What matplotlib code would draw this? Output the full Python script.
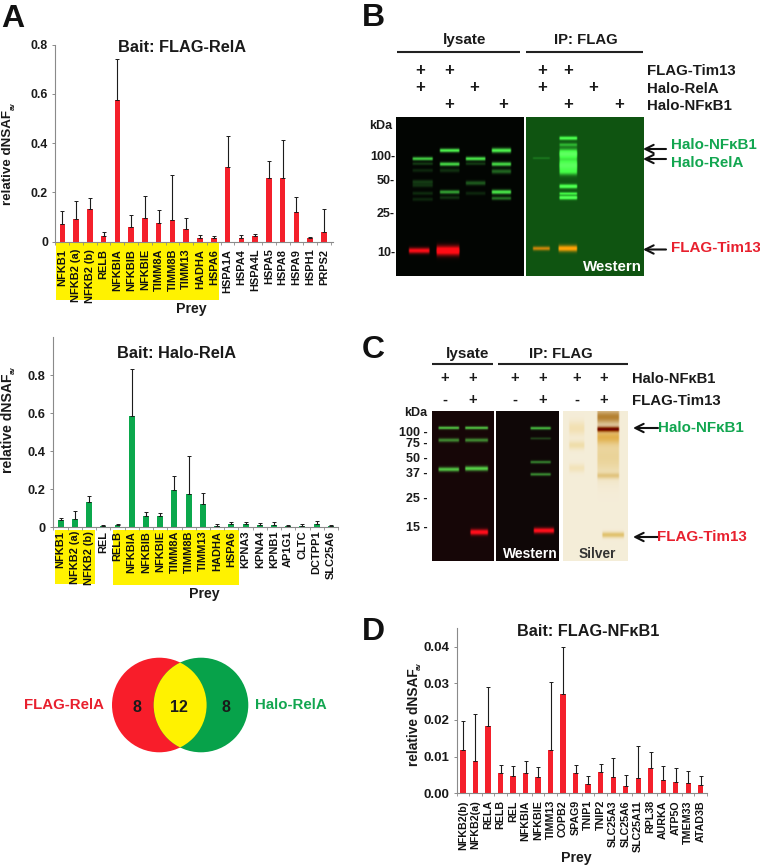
import numpy as np
import matplotlib
matplotlib.use("Agg")
import matplotlib.pyplot as plt
from matplotlib.patches import Circle, Rectangle

plt.rcParams['font.family'] = ['Liberation Sans', 'DejaVu Sans']
plt.rcParams['font.weight'] = 'bold'

RED = '#F4202B'
GREEN = '#0BA84C'
TXT_GREEN = '#12A650'
TXT_RED = '#E8202E'
AXC = '#8a8a8a'

# ---------- Data ----------
a1_labels = ['NFKB1', 'NFKB2 (a)', 'NFKB2 (b)', 'RELB', 'NFKBIA', 'NFKBIB', 'NFKBIE', 'TIMM8A', 'TIMM8B', 'TIMM13',
             'HADHA', 'HSPA6', 'HSPA1A', 'HSPA4', 'HSPA4L', 'HSPA5', 'HSPA8', 'HSPA9', 'HSPH1', 'PRPS2']
a1_values = [0.072, 0.092, 0.131, 0.022, 0.576, 0.061, 0.095, 0.076, 0.088, 0.053,
             0.015, 0.014, 0.305, 0.016, 0.022, 0.258, 0.260, 0.121, 0.014, 0.039]
a1_errors = [0.054, 0.072, 0.045, 0.017, 0.167, 0.049, 0.091, 0.054, 0.182, 0.045,
             0.012, 0.010, 0.123, 0.010, 0.008, 0.069, 0.152, 0.062, 0.006, 0.094]

a2_labels = ['NFKB1', 'NFKB2 (a)', 'NFKB2 (b)', 'REL', 'RELB', 'NFKBIA', 'NFKBIB', 'NFKBIE', 'TIMM8A', 'TIMM8B',
             'TIMM13', 'HADHA', 'HSPA6', 'KPNA3', 'KPNA4', 'KPNB1', 'AP1G1', 'CLTC', 'DCTPP1', 'SLC25A6']
a2_values = [0.039, 0.044, 0.132, 0.007, 0.012, 0.587, 0.060, 0.060, 0.197, 0.176,
             0.125, 0.009, 0.019, 0.016, 0.012, 0.014, 0.007, 0.007, 0.016, 0.007]
a2_errors = [0.012, 0.044, 0.032, 0.003, 0.006, 0.248, 0.019, 0.014, 0.072, 0.200,
             0.058, 0.009, 0.009, 0.012, 0.011, 0.012, 0.007, 0.009, 0.017, 0.007]

d_labels = ['NFKB2(b)', 'NFKB2(a)', 'RELA', 'RELB', 'REL', 'NFKBIA', 'NFKBIE', 'TIMM13', 'COPB2', 'SPAG9',
            'TNIP1', 'TNIP2', 'SLC25A3', 'SLC25A6', 'SLC25A11', 'RPL38', 'AURKA', 'ATP5O', 'TMEM33', 'ATAD3B']
d_values = [0.0118, 0.0088, 0.0184, 0.0055, 0.0047, 0.0056, 0.0045, 0.0117, 0.0270, 0.0055,
            0.0026, 0.0058, 0.0045, 0.0019, 0.0041, 0.0068, 0.0036, 0.0032, 0.0029, 0.0022]
d_errors = [0.0079, 0.0129, 0.0105, 0.0022, 0.0027, 0.0032, 0.0026, 0.0186, 0.0129, 0.0022,
            0.0020, 0.0021, 0.0050, 0.0030, 0.0088, 0.0046, 0.0039, 0.0037, 0.0031, 0.0026]

venn_counts = ['8', '12', '8']

# Blot bands: x0, x1, y, sigma, (dr, dg, db)
G = (0.3, 0.95, 0.3)
def g(a):
    return (G[0] * a, G[1] * a, G[2] * a)
R = (1.0, 0.03, 0.08)

b_left_bands = [
    (411.7, 433.3, 158.3, 1.2, g(.85)), (411.7, 433.3, 163.3, 1.0, g(.22)), (411.7, 433.3, 170, 1.2, g(.14)),
    (411.7, 433.3, 181.5, 1.4, g(.22)), (411.7, 433.3, 185, 1.4, g(.18)), (411.7, 433.3, 193, 1.2, g(.16)), (411.7, 433.3, 199, 1.2, g(.14)),
    (439, 460, 150, 1.3, g(1.0)), (439, 460, 163.7, 1.3, g(.9)), (439, 460, 170, 1.4, g(.18)), (439, 460, 191.7, 1.3, g(.65)), (439, 460, 197.3, 1.2, g(.18)),
    (465, 486, 158.3, 1.3, g(.95)), (465, 486, 163.3, 1.0, g(.22)), (465, 486, 182.7, 1.5, g(.35)), (465, 486, 193, 1.2, g(.14)),
    (491, 511.7, 150, 1.6, g(1.0)), (491, 511.7, 163.7, 1.4, g(.9)), (491, 511.7, 171, 1.6, g(.4)), (491, 511.7, 191.7, 1.5, g(.95)), (491, 511.7, 198, 1.2, g(.45)),
    (408, 430, 250.5, 2.0, R), (435.7, 460, 250.5, 3.3, (1.25, 0.03, 0.08)),
]
b_right_bands = [
    (531.7, 550, 157.7, 0.7, (0.05, 0.15, 0.05)),
    (558.3, 577.3, 137.7, 1.2, g(.85)), (558.3, 577.3, 144.3, 1.2, g(.4)), (558.3, 577.3, 153.3, 3.2, g(1.0)),
    (558.3, 577.3, 165, 4.5, g(1.0)), (558.3, 577.3, 172, 2.0, g(.35)), (558.3, 577.3, 186, 1.4, g(.9)), (558.3, 577.3, 193.3, 1.0, g(.7)), (558.3, 577.3, 197.3, 1.3, g(.95)),
    (531.7, 550, 248.3, 1.4, (0.75, 0.2, -0.03)), (557.3, 577.3, 248.3, 2.2, (1.0, 0.32, -0.05)),
]
c_left_bands = [
    (437.3, 459.3, 427.7, 1.0, g(.8)), (437.3, 459.3, 440, 1.3, g(.55)), (437.3, 459.3, 469.3, 1.5, g(.8)),
    (464, 488.3, 427.7, 1.0, g(.8)), (464, 488.3, 440, 1.3, g(.55)), (464, 488.3, 468.5, 1.6, g(.85)),
    (469.3, 488.3, 532.3, 2.0, R),
]
c_mid_bands = [
    (530, 551.7, 428, 1.0, g(.75)), (530, 551.7, 438.3, 0.8, g(.25)), (530, 551.7, 462, 1.0, g(.5)), (530, 551.7, 474.3, 1.0, g(.55)),
    (533.3, 555, 530.7, 1.9, R),
]
c_silver_bands = [
    (568.3, 585, 428, 5, (-0.01, -0.05, -0.15)), (568.3, 585, 445, 3, (-0.02, -0.06, -0.18)), (568.3, 585, 468, 3, (-0.01, -0.04, -0.12)),
    (596.7, 620, 416.7, 5, (-0.25, -0.42, -0.65)), (596.7, 620, 436.7, 5, (-0.06, -0.2, -0.45)),
    (596.7, 620, 456.7, 14, (-0.04, -0.1, -0.25)), (596.7, 620, 475.7, 2, (-0.06, -0.12, -0.25)),
    (596.7, 620, 429, 1.8, (-0.5, -0.85, -0.85)),
    (601.7, 625, 535, 2.0, (-0.08, -0.17, -0.42)),
]

# ---------- Figure ----------
W, H = 760, 868
fig = plt.figure(figsize=(W / 100, H / 100), dpi=100)
ov = fig.add_axes([0, 0, 1, 1], zorder=0)
ov.set_xlim(0, W)
ov.set_ylim(H, 0)
ov.axis('off')


def px_axes(left, top, right, bottom):
    ax = fig.add_axes([left / W, 1 - bottom / H, (right - left) / W, (bottom - top) / H], zorder=1)
    ax.patch.set_alpha(0)
    return ax


def t(x, y, s, size=9, color='#1a1a1a', ha='center', rot=0, weight='bold'):
    ov.text(x, y, s, fontsize=size, color=color, ha=ha, va='center', rotation=rot, fontweight=weight, zorder=6)


def barpanel(labels, values, errors, color, box, first, step, ymax, ymajor, fmt, lab_size, tick_size, pad, barw):
    left, top, right, bottom = box
    ax = px_axes(left, top, right, bottom)
    x = np.arange(len(labels))
    ax.bar(x, values, width=barw, color=color, linewidth=0, zorder=2)
    ax.errorbar(x, values, yerr=[np.zeros(len(x)), errors], fmt='none', ecolor='#1c1c1c',
                elinewidth=0.8, capsize=1.3, capthick=0.7, zorder=3)
    ax.set_xlim((left - first) / step, (right - first) / step)
    ax.set_ylim(0, ymax)
    for s in ('top', 'right'):
        ax.spines[s].set_visible(False)
    for s in ('left', 'bottom'):
        ax.spines[s].set_color(AXC)
        ax.spines[s].set_linewidth(0.8)
    ax.set_yticks(ymajor)
    ax.set_yticklabels([fmt(v) for v in ymajor], fontsize=tick_size, fontweight='bold', color='#1a1a1a')
    ax.tick_params(axis='y', length=2, width=0.7, color=AXC, pad=3)
    ax.set_xticks(x)
    ax.set_xticklabels(labels, rotation=90, fontsize=lab_size, fontweight='bold', color='#111111')
    ax.tick_params(axis='x', which='major', length=0, pad=pad)
    ax.set_xticks(np.arange(len(labels) + 1) - 0.5, minor=True)
    ax.tick_params(axis='x', which='minor', length=2, width=0.6, color=AXC)
    return ax


def blot(box, bg, bands):
    x0, x1, y0, y1 = box
    n, m = int((y1 - y0) * 2), int((x1 - x0) * 2)
    yy = np.linspace(y0, y1, n)[:, None]
    xx = np.linspace(x0, x1, m)[None, :]
    img = np.ones((n, m, 3)) * np.array(bg)
    for a, b, yc, sig, col in bands:
        px_ = np.clip((xx - a) / 1.5, 0, 1) * np.clip((b - xx) / 1.5, 0, 1)
        py_ = np.exp(-0.5 * ((yy - yc) / sig) ** 2)
        prof = px_ * py_
        for c in range(3):
            img[:, :, c] += col[c] * prof
    ov.imshow(np.clip(img, 0, 1), extent=[x0, x1, y1, y0], aspect='auto', interpolation='bilinear', zorder=2)


def arrow(x_from, x_to, y):
    ov.annotate('', xy=(x_to, y), xytext=(x_from, y),
                arrowprops=dict(arrowstyle='->', lw=1.5, color='#111111', mutation_scale=15,
                                shrinkA=0, shrinkB=0), zorder=5)


def hline(x0, x1, y):
    ov.plot([x0, x1], [y, y], color='#222222', lw=1.5, solid_capstyle='butt', zorder=3)


# Yellow highlights
for (xa, xb, ya, yb) in [(56, 219, 243, 299.5), (55, 95, 530, 584), (113.3, 239, 530, 585)]:
    ov.add_patch(Rectangle((xa, ya), xb - xa, yb - ya, facecolor='#FFF200', edgecolor='none', zorder=1))

# Panel A charts
barpanel(a1_labels, a1_values, a1_errors, RED, (55, 44.5, 333, 241.7), 62.3, 13.77, 0.8,
         [0, 0.2, 0.4, 0.6, 0.8], lambda v: '0' if v == 0 else f'{v:.1f}', 7.9, 8.8, 5, 0.4)
barpanel(a2_labels, a2_values, a2_errors, GREEN, (52.7, 337.5, 338, 527.3), 60.7, 14.4, 1.0,
         [0, 0.2, 0.4, 0.6, 0.8], lambda v: '0' if v == 0 else f'{v:.1f}', 7.9, 9.2, 2.5, 0.42)
barpanel(d_labels, d_values, d_errors, RED, (456.7, 628.3, 707, 793.3), 462.7, 12.54, 0.045,
         [0, 0.01, 0.02, 0.03, 0.04], lambda v: f'{v:.2f}', 7.7, 9.5, 5, 0.42)

# Chart text
t(181.7, 48, 'Bait: FLAG-RelA', 11.8)
t(191, 309, 'Prey', 10.2)
t(8.5, 157.5, 'relative dNSAF', 9.6, rot=90)
t(13, 106, 'av', 5, rot=90)
t(177, 353, 'Bait: Halo-RelA', 11.8)
t(204, 594, 'Prey', 10.2)
t(8.5, 423, 'relative dNSAF', 10.1, rot=90)
t(13, 370, 'av', 5, rot=90)
t(587.7, 631.7, 'Bait: FLAG-NFκB1', 11.7)
t(576.7, 857.7, 'Prey', 10.2)
t(414.5, 717.5, 'relative dNSAF', 9.9, rot=90)
t(419, 666, 'av', 5, rot=90)

# Panel letters
t(1, 19, 'A', 23, color='#111111', ha='left')
t(362, 18, 'B', 23, color='#111111', ha='left')
t(362, 350, 'C', 23, color='#111111', ha='left')
t(362, 632, 'D', 23, color='#111111', ha='left')

# Venn diagram
red_c = Circle((159.3, 705), 47.3, facecolor='#F81D2A', edgecolor='none', zorder=2)
green_c = Circle((201, 705), 47.3, facecolor='#07A24A', edgecolor='none', zorder=2)
ov.add_patch(red_c)
ov.add_patch(green_c)
lens = Circle((159.3, 705), 47.3, facecolor='#FFF200', edgecolor='none', zorder=3)
ov.add_patch(lens)
clipper = Circle((201, 705), 47.3, transform=ov.transData)
lens.set_clip_path(clipper)
t(137, 707, venn_counts[0], 11.5)
t(179, 707, venn_counts[1], 11.5)
t(226, 707, venn_counts[2], 11.5)
t(63.7, 705, 'FLAG-RelA', 10.8, color=TXT_RED)
t(291, 705, 'Halo-RelA', 10.8, color=TXT_GREEN)

# Panel B
hline(397, 519.7, 51.7)
hline(525.7, 643, 51.7)
t(465, 40, 'lysate', 11)
t(586, 40, 'IP: FLAG', 10.7)
for y, xs in [(70.5, [420, 449, 541.7, 568.3]), (87.5, [420, 474, 541.7, 593.3]), (104, [449, 502.7, 568.3, 619.3])]:
    for xv in xs:
        t(xv, y, '+', 12)
t(646.7, 71, 'FLAG-Tim13', 10.8, ha='left')
t(646.7, 89, 'Halo-RelA', 10.8, ha='left')
t(646.7, 106, 'Halo-NFκB1', 10.8, ha='left')
t(392, 126, 'kDa', 9, ha='right')
for y, s in [(157, '100-'), (181, '50-'), (214, '25-'), (253, '10-')]:
    t(395, y, s, 9, ha='right')
blot((396, 523.7, 116.7, 275.7), (0.01, 0.02, 0.01), b_left_bands)
blot((525.7, 643.3, 116.7, 275.7), (0.06, 0.33, 0.07), b_right_bands)
t(641.7, 267, 'Western', 10.8, color='white', ha='right')
arrow(666, 643, 149)
arrow(666, 643, 159)
arrow(666, 643, 249.5)
t(670.7, 145, 'Halo-NFκB1', 10.9, color=TXT_GREEN, ha='left')
t(670.7, 163, 'Halo-RelA', 10.9, color=TXT_GREEN, ha='left')
t(670.7, 248, 'FLAG-Tim13', 10.9, color=TXT_RED, ha='left')

# Panel C
hline(431.7, 493.3, 364.3)
hline(498.3, 628.3, 364.3)
t(468, 354, 'lysate', 11)
t(560.7, 354, 'IP: FLAG', 10.7)
for xv in [445, 472.3, 515, 542.3, 576.7, 604]:
    t(xv, 378, '+', 10.5)
for xv, s in [(445, '-'), (472.3, '+'), (515, '-'), (542.3, '+'), (576.7, '-'), (604, '+')]:
    t(xv, 400, s, 10.5)
t(632.3, 379, 'Halo-NFκB1', 10.6, ha='left')
t(632.3, 401, 'FLAG-Tim13', 10.8, ha='left')
t(427.7, 412.7, 'kDa', 9, ha='right')
for y, s in [(433, '100 -'), (444, '75 -'), (459, '50 -'), (474, '37 -'), (499, '25 -'), (528, '15 -')]:
    t(428, y, s, 9, ha='right')
blot((431.7, 493.3, 411, 561), (0.09, 0.025, 0.03), c_left_bands)
blot((496.3, 559, 411, 561), (0.06, 0.03, 0.03), c_mid_bands)
blot((563, 628, 411, 561), (0.96, 0.93, 0.85), c_silver_bands)
t(557.7, 554, 'Western', 10, color='white', ha='right')
t(597.7, 554, 'Silver', 9.8, color='#333333')
arrow(658, 633, 428)
arrow(658, 633, 537)
t(658, 428, 'Halo-NFκB1', 10.9, color=TXT_GREEN, ha='left')
t(657, 537, 'FLAG-Tim13', 10.9, color=TXT_RED, ha='left')

ov.set_xlim(0, W)
ov.set_ylim(H, 0)
fig.savefig('out.png', dpi=100)
